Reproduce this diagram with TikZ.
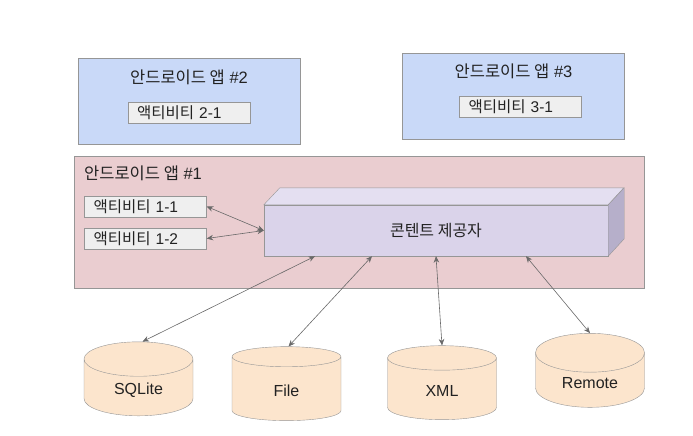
\documentclass[tikz,border=0pt]{standalone}
\usepackage{fontspec}
\setmainfont{Liberation Sans}
\newfontfamily\kr{Noto Sans CJK KR}
\usetikzlibrary{shapes.geometric,arrows.meta}

\definecolor{appblue}{RGB}{201,217,248}
\definecolor{apppink}{RGB}{234,205,208}
\definecolor{cpfront}{RGB}{218,211,234}
\definecolor{cptop}{RGB}{228,223,241}
\definecolor{cpside}{RGB}{182,175,202}
\definecolor{dbfill}{RGB}{252,229,205}
\definecolor{actfill}{RGB}{239,239,239}
\definecolor{linegray}{RGB}{150,150,150}
\definecolor{conngray}{RGB}{105,105,105}
\definecolor{textgray}{RGB}{34,34,34}

\tikzset{
  app/.style={draw=linegray, fill=appblue, minimum width=222pt, minimum height=86pt},
  applabel/.style={font=\fontsize{16.5}{16.5}\selectfont, text=textgray, inner sep=0pt},
  activity/.style={draw=linegray, fill=actfill, text width=104pt, inner xsep=9pt,
    inner ysep=0pt, align=left, minimum height=21pt, text=textgray,
    font=\fontsize{15.5}{15.5}\selectfont},
  store/.style={cylinder, shape border rotate=90, aspect=0.62, draw=linegray,
    fill=dbfill, minimum width=109pt, minimum height=74pt, text=textgray,
    font=\fontsize{16}{16}\selectfont},
  conn/.style={draw=conngray, <->, >={Stealth[length=6.5pt,width=5.5pt]}, line width=0.6pt}
}

\begin{document}
\begin{tikzpicture}[x=1pt, y=-1pt]
  \useasboundingbox (0,0) rectangle (693,436);
  % other apps
  \node[app] (app2) at (189,101) {};
  \node[applabel] (app2name) at (189,77) {{\kr 안드로이드 앱} \#2};
  \node[activity] (act21) at (189,112.5) {{\kr 액티비티} 2-1};
  \node[app] (app3) at (513.5,96) {};
  \node[applabel] (app3name) at (513.5,71) {{\kr 안드로이드 앱} \#3};
  \node[activity] (act31) at (520.5,106.5) {{\kr 액티비티} 3-1};
  % app 1
  \node[app, fill=apppink, minimum width=570pt, minimum height=132pt] (app1) at (359,222) {};
  \node[applabel, anchor=west] (app1name) at (84,173) {{\kr 안드로이드 앱} \#1};
  \node[activity] (act11) at (145.5,206.5) {{\kr 액티비티} 1-1};
  \node[activity] (act12) at (145.5,238.5) {{\kr 액티비티} 1-2};
  % content provider box
  \node[draw=linegray, fill=cpfront, minimum width=344pt, minimum height=51pt,
    text=textgray, font=\fontsize{16}{16}\selectfont] (cp) at (436,230.5) {\kr 콘텐트 제공자};
  \draw[linegray, fill=cptop] (cp.north west) -- ++(16,-17) -- ++(344,0) -- (cp.north east) -- cycle;
  \draw[linegray, fill=cpside] (cp.north east) -- ++(16,-17) -- ++(0,51) -- (cp.south east) -- cycle;
  % data stores
  \node[store] (sqlite) at (138.5,390.5) {SQLite};
  \node[store] (file) at (286.5,390.5) {File};
  \node[store] (xml) at (442,391) {XML};
  \node[store] (remote) at (590,383.5) {Remote};
  % connections
  \draw[conn] (act11.east) -- (cp.west);
  \draw[conn] (act12.east) -- (cp.west);
  \draw[conn] ([xshift=-121pt]cp.south) -- ([xshift=4pt]sqlite.north);
  \draw[conn] ([xshift=-64pt]cp.south) -- ([xshift=2pt]file.north);
  \draw[conn] (cp.south) -- (xml.north);
  \draw[conn] ([xshift=90pt]cp.south) -- (remote.north);
\end{tikzpicture}
\end{document}
